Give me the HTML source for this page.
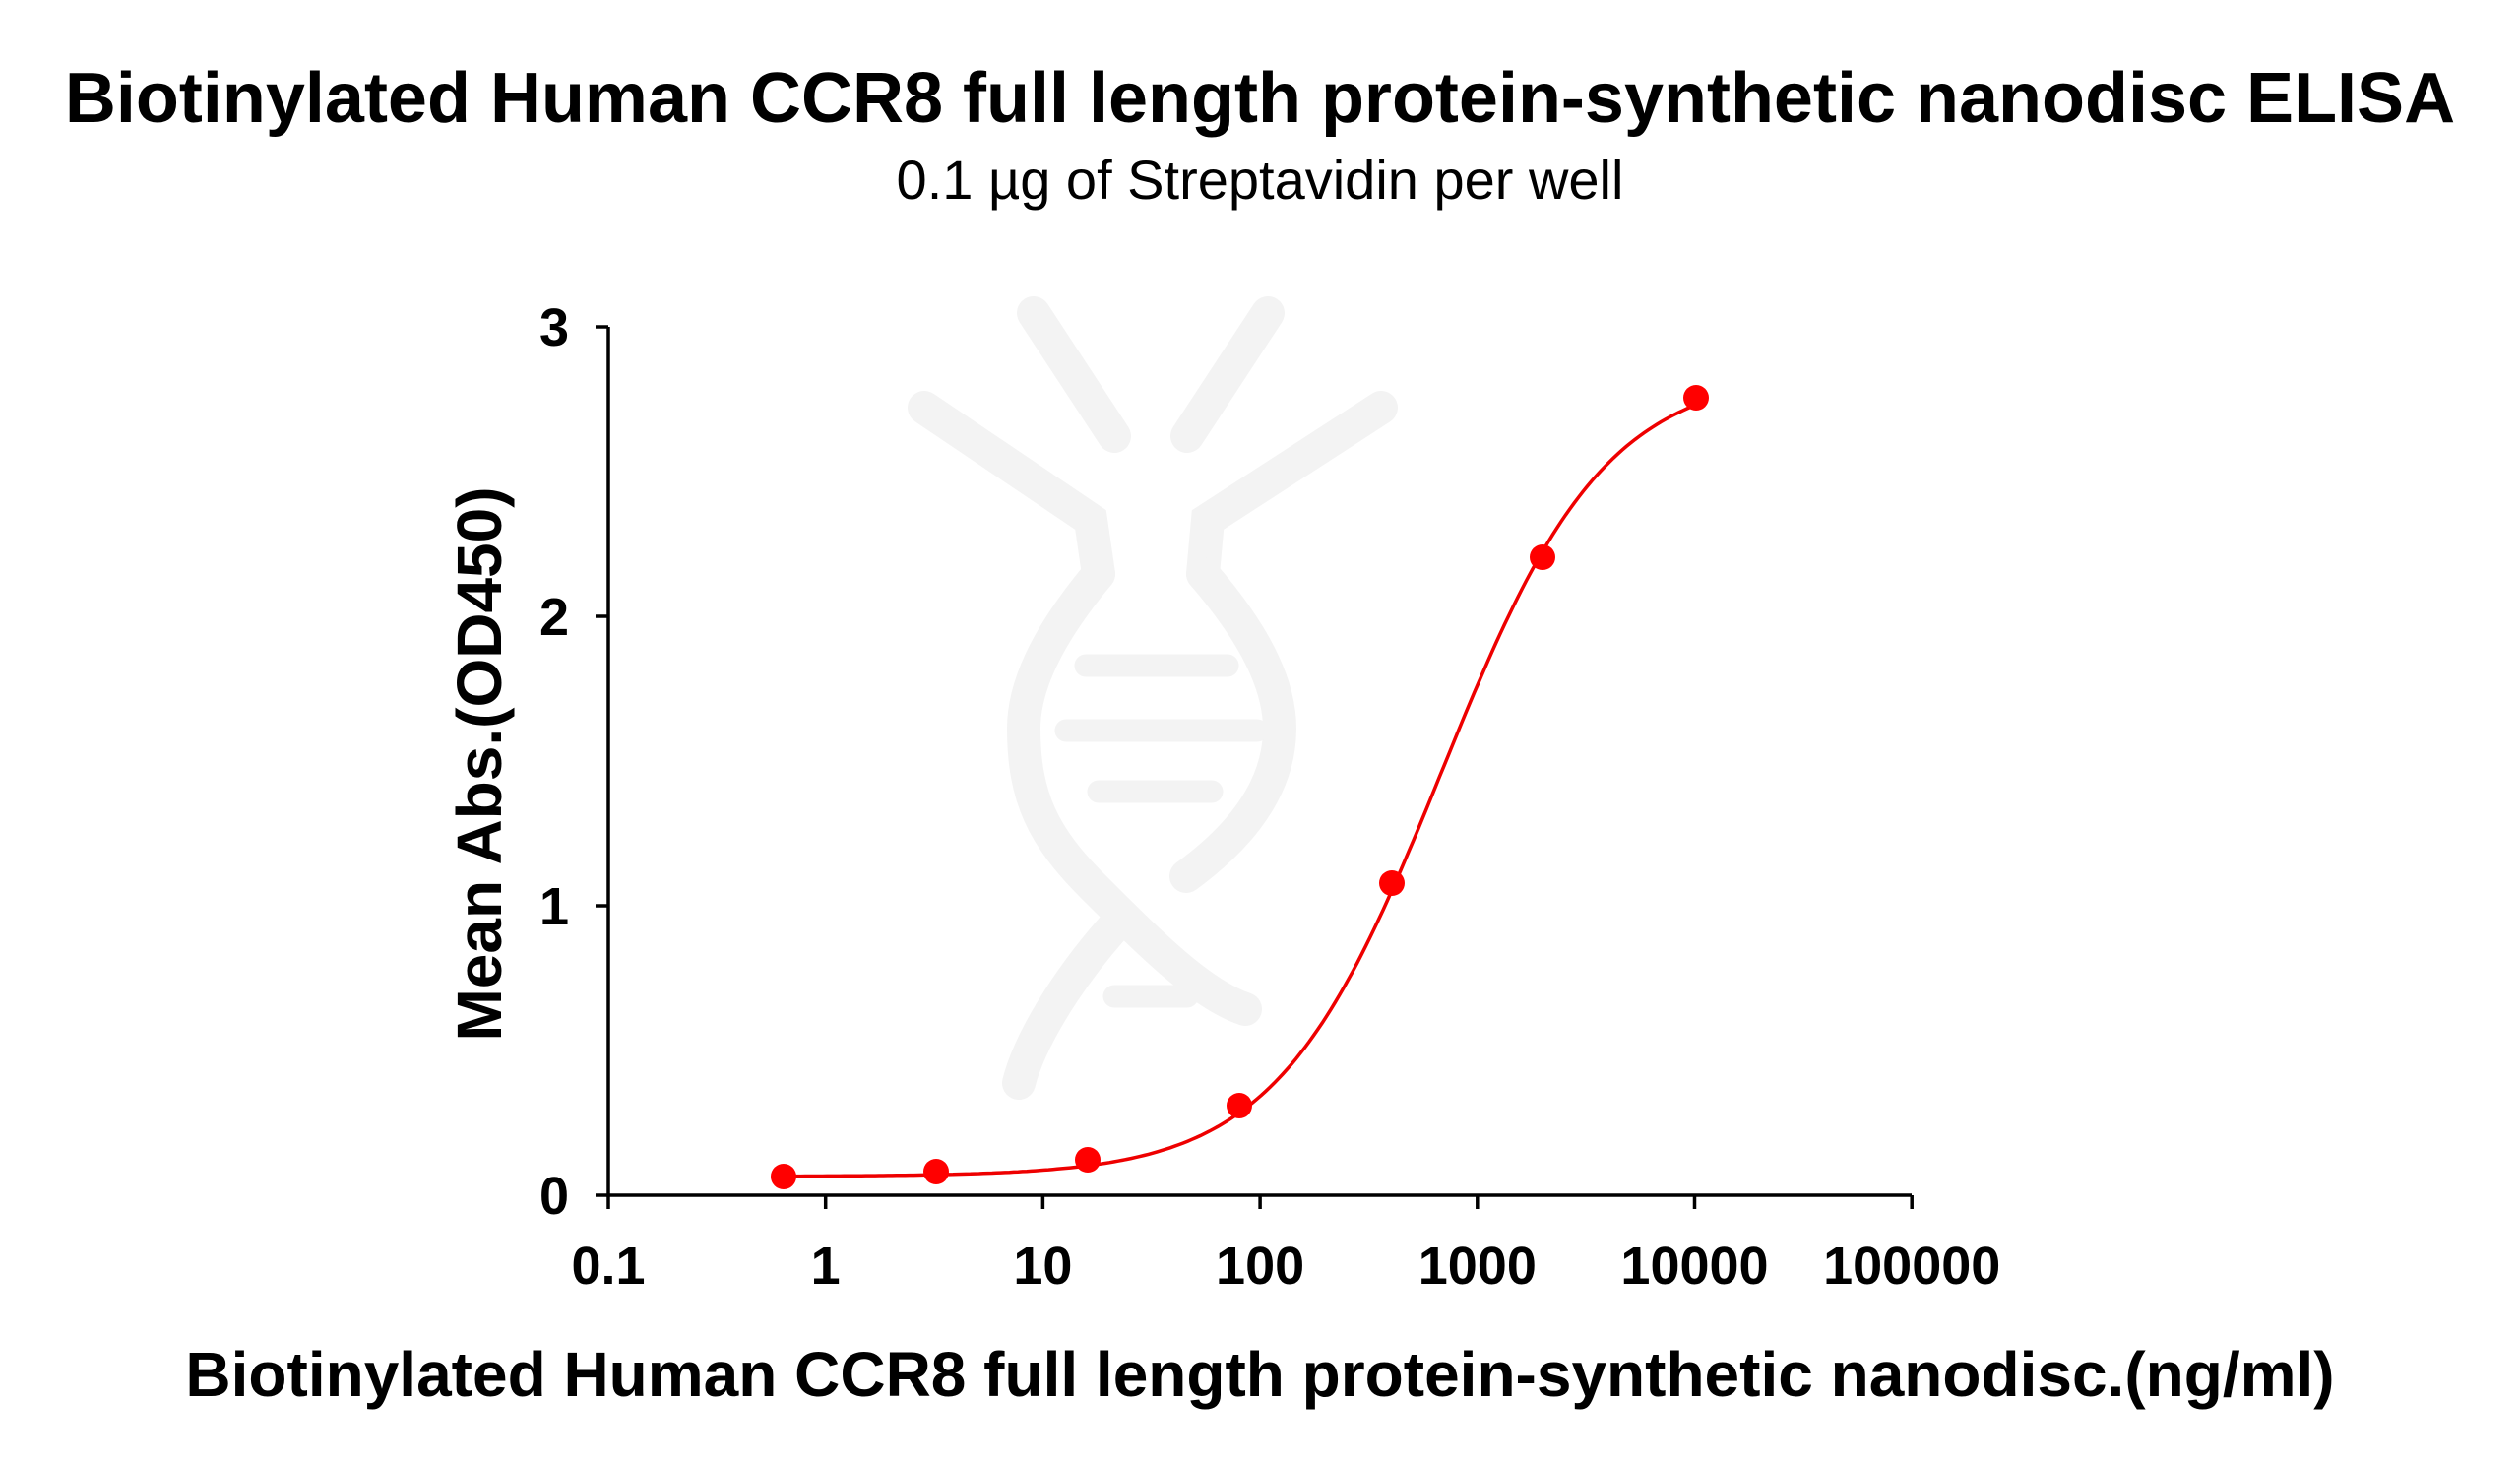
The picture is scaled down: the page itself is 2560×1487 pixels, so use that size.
<!DOCTYPE html>
<html><head><meta charset="utf-8"><style>
html,body{margin:0;padding:0;background:#fff}
svg{display:block}
text{font-family:"Liberation Sans",Arial,sans-serif}
</style></head><body>
<svg id="s" width="2560" height="1487" viewBox="0 0 2560 1487" xmlns="http://www.w3.org/2000/svg">
<rect width="2560" height="1487" fill="#fff"/>
<g stroke="#f3f3f3" fill="none" stroke-linecap="round" stroke-width="34">
<path d="M1050,318 L1132,443"/>
<path d="M1288,318 L1206,443"/>
<path d="M939,414 L1108,528 L1116,583"/>
<path d="M1403,414 L1227,528 L1222,583"/>
<path d="M1116,583 C1060,650 1040,700 1040,740 C1040,810 1060,850 1110,900 C1170,960 1220,1010 1265,1025"/>
<path d="M1222,583 C1280,650 1300,700 1300,740 C1300,800 1260,850 1205,890"/>
<path d="M1130,943 C1080,1000 1045,1060 1035,1100"/>
<g stroke-width="23"><path d="M1103,676 L1247,676"/><path d="M1083,742 L1277,742"/><path d="M1116,804 L1231,804"/><path d="M1132,1012 L1206,1012"/></g>
</g>
<text x="1280" y="124" font-size="72" font-weight="bold" text-anchor="middle">Biotinylated Human CCR8 full length protein-synthetic nanodisc ELISA</text>
<text x="1280" y="202" font-size="56" text-anchor="middle">0.1 µg of Streptavidin per well</text>
<g stroke="#000" stroke-width="3.5" fill="none">
<path d="M618,332 L618,1214 L1942,1214"/>
<path d="M605,332 H618 M605,626 H618 M605,920 H618 M605,1214 H618"/>
<path id="xt" d=""/>
</g>
<g font-size="54" font-weight="bold" text-anchor="end">
<text x="578" y="351">3</text><text x="578" y="645">2</text><text x="578" y="939">1</text><text x="578" y="1233">0</text>
</g>
<g font-size="54" font-weight="bold" text-anchor="middle" id="xl"></g>
<text transform="translate(509,776) rotate(-90)" font-size="64" font-weight="bold" text-anchor="middle">Mean Abs.(OD450)</text>
<text x="1280" y="1418" font-size="64" font-weight="bold" text-anchor="middle">Biotinylated Human CCR8 full length protein-synthetic nanodisc.(ng/ml)</text>
<path id="curve" d="" stroke="#e00" stroke-width="3.5" fill="none"/>
<g fill="#f00" id="pts"></g>
</svg>
<script>
var X=function(v){return 618+(Math.log10(v)+1)*220.7},Y=function(v){return 1214-v*294};
var t="",xl="",labs=["0.1","1","10","100","1000","10000","100000"];
for(var i=0;i<7;i++){var x=618+i*220.7;t+="M"+x+",1214 V1228 ";xl+='<text x="'+x+'" y="1304">'+labs[i]+'</text>';}
document.getElementById("xt").setAttribute("d",t);
document.getElementById("xl").innerHTML=xl;
function f(x){return 0.065+2.785/(1+Math.pow(680/x,1.15));}
var d="";for(var lx=Math.log10(0.64);lx<=4.0001;lx+=0.02){var v=Math.pow(10,lx);d+=(d?"L":"M")+X(v).toFixed(1)+","+Y(f(v)).toFixed(1);}
document.getElementById("curve").setAttribute("d",d);
var P=[[796,1195],[951,1190],[1105,1178],[1259,1123],[1414,897],[1567,566],[1723,404]],h="";
P.forEach(function(p){h+='<circle cx="'+p[0]+'" cy="'+p[1]+'" r="13"/>';});
document.getElementById("pts").innerHTML=h;
</script>
</body></html>
